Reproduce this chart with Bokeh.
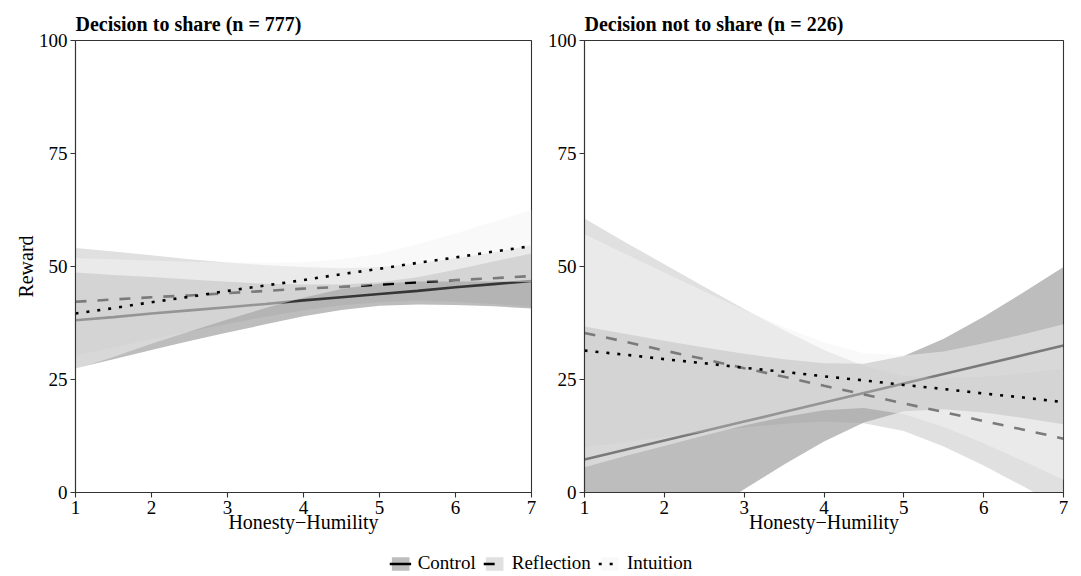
from bokeh.plotting import figure
from bokeh.models import Range1d, FixedTicker, Legend, LegendItem, ColumnDataSource
from bokeh.layouts import column, row
from bokeh.embed import file_html
from bokeh.resources import INLINE

# ---------------- data ----------------
HH = [1.0, 1.5, 2.0, 2.5, 3.0, 3.5, 4.0, 4.5, 5.0, 5.5, 6.0, 6.5, 7.0]
conditions = ["Control", "Reflection", "Intuition"]
panel_titles = ["Decision to share (n = 777)", "Decision not to share (n = 226)"]
x_ticks = [1, 2, 3, 4, 5, 6, 7]
y_ticks = [0, 25, 50, 75, 100]
x_label = "Honesty\u2212Humility"
y_label = "Reward"

# Decision to share
share_control_fit = [38.1, 38.8, 39.6, 40.3, 41.0, 41.7, 42.5, 43.2, 43.9, 44.6, 45.4, 46.1, 46.8]
share_control_lo = [27.5, 29.5, 31.5, 33.5, 35.4, 37.2, 39.0, 40.4, 41.3, 41.6, 41.5, 41.2, 40.7]
share_control_hi = [48.7, 48.1, 47.7, 47.1, 46.6, 46.2, 46.0, 46.0, 46.5, 47.6, 49.3, 51.1, 52.9]
share_reflection_fit = [42.2, 42.7, 43.2, 43.6, 44.1, 44.6, 45.1, 45.5, 46.0, 46.5, 47.0, 47.4, 47.9]
share_reflection_lo = [30.3, 32.1, 33.9, 35.6, 37.3, 38.9, 40.3, 41.4, 42.1, 42.4, 42.2, 41.7, 41.1]
share_reflection_hi = [54.1, 53.3, 52.5, 51.6, 50.9, 50.3, 49.9, 49.6, 49.9, 50.6, 51.8, 53.1, 54.7]
share_intuition_fit = [39.6, 40.8, 42.1, 43.3, 44.6, 45.8, 47.0, 48.3, 49.5, 50.8, 52.0, 53.3, 54.5]
share_intuition_lo = [27.3, 30.0, 32.9, 35.6, 38.3, 40.8, 43.1, 45.0, 46.2, 46.7, 46.7, 46.7, 46.5]
share_intuition_hi = [51.9, 51.6, 51.3, 51.1, 50.9, 50.8, 50.9, 51.6, 52.8, 54.9, 57.3, 59.9, 62.5]

# Decision not to share
noshare_control_fit = [7.3, 9.4, 11.5, 13.6, 15.7, 17.8, 19.9, 22.0, 24.1, 26.2, 28.3, 30.4, 32.5]
noshare_control_lo = [-22.1, -16.3, -10.6, -4.9, 0.7, 6.2, 11.3, 15.5, 18.0, 18.4, 17.7, 16.5, 15.1]
noshare_control_hi = [36.7, 35.1, 33.6, 32.1, 30.7, 29.5, 28.6, 28.5, 30.2, 34.0, 38.9, 44.3, 49.9]
noshare_reflection_fit = [35.3, 33.4, 31.4, 29.5, 27.5, 25.6, 23.6, 21.7, 19.7, 17.8, 15.8, 13.9, 11.9]
noshare_reflection_lo = [10.0, 11.2, 12.3, 13.4, 14.4, 15.2, 15.7, 15.3, 13.6, 10.2, 6.0, 1.3, -3.5]
noshare_reflection_hi = [60.6, 55.5, 50.5, 45.5, 40.6, 35.9, 31.5, 28.0, 25.8, 25.3, 25.6, 26.4, 27.3]
noshare_intuition_fit = [31.4, 30.5, 29.5, 28.6, 27.6, 26.7, 25.7, 24.8, 23.8, 22.9, 21.9, 21.0, 20.0]
noshare_intuition_lo = [5.6, 8.0, 10.3, 12.6, 14.8, 16.7, 18.2, 18.7, 17.3, 14.5, 10.9, 6.9, 2.8]
noshare_intuition_hi = [57.2, 52.9, 48.7, 44.5, 40.4, 36.6, 33.2, 30.8, 30.3, 31.2, 33.0, 35.0, 37.2]

share_series = {
    "Control": (share_control_fit, share_control_lo, share_control_hi),
    "Reflection": (share_reflection_fit, share_reflection_lo, share_reflection_hi),
    "Intuition": (share_intuition_fit, share_intuition_lo, share_intuition_hi),
}
noshare_series = {
    "Control": (noshare_control_fit, noshare_control_lo, noshare_control_hi),
    "Reflection": (noshare_reflection_fit, noshare_reflection_lo, noshare_reflection_hi),
    "Intuition": (noshare_intuition_fit, noshare_intuition_lo, noshare_intuition_hi),
}

# ---------------- styles ----------------
FONT = "Liberation Serif"
FILL = {"Control": ("#393939", 0.333), "Reflection": ("#a2a2a2", 0.333), "Intuition": ("#f3f3f3", 0.5)}
DASH = {"Control": "solid", "Reflection": "11 11", "Intuition": "3 8"}
LW = 2.6
AXC = "#333333"


def make_panel(title, series, left, fw, right, ylab):
    p = figure(frame_width=fw, frame_height=452,
               min_border_left=left, min_border_right=right,
               min_border_top=40, min_border_bottom=44,
               x_range=Range1d(1, 7), y_range=Range1d(0, 100),
               toolbar_location=None, output_backend="svg", title=title)
    p.outline_line_color = AXC
    p.outline_line_width = 1.1
    p.grid.visible = False
    p.background_fill_color = "white"
    p.border_fill_color = "white"
    for cond in conditions:
        fit, lo, hi = series[cond]
        col, alpha = FILL[cond]
        src = ColumnDataSource(dict(x=HH, fit=fit, lo=lo, hi=hi))
        p.varea(x="x", y1="lo", y2="hi", source=src, fill_color=col, fill_alpha=alpha)
        p.line(x="x", y="fit", source=src, line_color="black", line_width=LW,
               line_dash=DASH[cond])
    for ax in (p.xaxis[0], p.yaxis[0]):
        ax.axis_line_color = AXC
        ax.axis_line_width = 1.1
        ax.major_tick_line_color = AXC
        ax.major_tick_line_width = 1.1
        ax.major_tick_out = 5
        ax.major_tick_in = 0
        ax.minor_tick_line_color = None
        ax.major_label_text_font = FONT
        ax.major_label_text_font_size = "19px"
        ax.major_label_text_color = "black"
        ax.major_label_standoff = 3
        ax.axis_label_text_font = FONT
        ax.axis_label_text_font_size = "20px"
        ax.axis_label_text_font_style = "normal"
        ax.axis_label_text_color = "black"
    p.xaxis.ticker = FixedTicker(ticks=x_ticks)
    p.yaxis.ticker = FixedTicker(ticks=y_ticks)
    p.xaxis.axis_label = x_label
    p.xaxis.axis_label_standoff = -6
    if ylab:
        p.yaxis.axis_label = y_label
        p.yaxis.axis_label_standoff = -1
    p.title.text_font = FONT
    p.title.text_font_style = "bold"
    p.title.text_font_size = "20px"
    p.title.text_color = "black"
    p.title.align = "left"
    p.title.standoff = 11
    return p


p1 = make_panel(panel_titles[0], share_series, 75, 456, 9, True)
p2 = make_panel(panel_titles[1], noshare_series, 44, 479, 18, False)

# legend strip
lf = figure(width=1081, height=39, x_range=Range1d(0, 1), y_range=Range1d(0, 1),
            toolbar_location=None, output_backend="svg", min_border=0,
            x_axis_location=None, y_axis_location=None, outline_line_color=None)
lf.grid.visible = False
items = []
for cond in conditions:
    col, alpha = FILL[cond]
    r1 = lf.varea(x=[5, 6], y1=[0, 0], y2=[1, 1], fill_color=col, fill_alpha=alpha)
    r2 = lf.line(x=[5, 6], y=[0.5, 0.5], line_color="black", line_width=LW, line_dash=DASH[cond])
    items.append(LegendItem(label=cond, renderers=[r1, r2]))
legend = Legend(items=items, orientation="horizontal", location="bottom",
                glyph_width=22, glyph_height=17, label_height=17, label_standoff=7,
                spacing=7, padding=0, margin=1, border_line_color=None,
                background_fill_alpha=0, label_text_font=FONT,
                label_text_font_size="19px", label_text_color="black")
lf.add_layout(legend, "center")

layout = column(row(p1, p2), lf)
open("out.html", "w").write(file_html(layout, INLINE))
